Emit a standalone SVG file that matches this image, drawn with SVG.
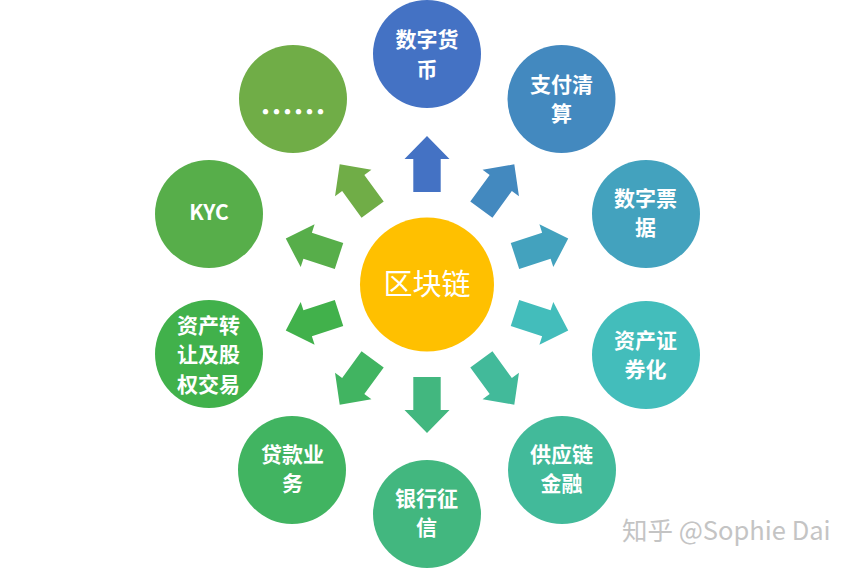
<svg xmlns="http://www.w3.org/2000/svg" width="854" height="569" viewBox="0 0 854 569">
<style>
text{font-family:"Microsoft YaHei","Noto Sans CJK SC","Noto Sans",sans-serif;text-anchor:middle}
.n text{fill:#fff;font-size:21px;font-weight:700}
.wm{fill:#c4c4c4;font-size:25.5px;text-anchor:start}
</style>
<defs><polygon id="a" points="-13.7,-92.5 -13.7,-125.5 -22.5,-125.5 0,-148.5 22.5,-125.5 13.7,-125.5 13.7,-92.5"/></defs>
<rect width="854" height="569" fill="#fff"/>
<g id="connectors">
<use href="#a" transform="translate(427 284.5)" fill="#4472C4"/>
<use href="#a" transform="translate(427 284.5) rotate(36)" fill="#4389BF"/>
<use href="#a" transform="translate(427 284.5) rotate(72)" fill="#43A2BE"/>
<use href="#a" transform="translate(427 284.5) rotate(108)" fill="#43BDBB"/>
<use href="#a" transform="translate(427 284.5) rotate(144)" fill="#42BA9A"/>
<use href="#a" transform="translate(427 284.5) rotate(180)" fill="#42B77F"/>
<use href="#a" transform="translate(427 284.5) rotate(216)" fill="#41B461"/>
<use href="#a" transform="translate(427 284.5) rotate(252)" fill="#41B14B"/>
<use href="#a" transform="translate(427 284.5) rotate(288)" fill="#57AE4A"/>
<use href="#a" transform="translate(427 284.5) rotate(324)" fill="#70AD47"/>
</g>
<g id="center"><circle cx="427" cy="284.5" r="67" fill="#FFC000"/><text x="427" y="295" font-size="29" fill="#fff">区块链</text></g>
<g id="n0" class="n"><circle cx="427" cy="54" r="54" fill="#4472C4"/><text x="427" y="47">数字货</text><text x="427" y="77">币</text></g>
<g id="n1" class="n"><circle cx="561.5" cy="99" r="54" fill="#4389BF"/><text x="561.5" y="92">支付清</text><text x="561.5" y="121">算</text></g>
<g id="n2" class="n"><circle cx="646" cy="214" r="54" fill="#43A2BE"/><text x="645.5" y="206">数字票</text><text x="645.5" y="235">据</text></g>
<g id="n3" class="n"><circle cx="646" cy="355" r="54" fill="#43BDBB"/><text x="645.5" y="348">资产证</text><text x="645.5" y="377">券化</text></g>
<g id="n4" class="n"><circle cx="562" cy="470" r="54" fill="#42BA9A"/><text x="561.5" y="462">供应链</text><text x="561.5" y="491">金融</text></g>
<g id="n5" class="n"><circle cx="427" cy="514" r="54" fill="#42B77F"/><text x="426.5" y="506">银行征</text><text x="426.5" y="535">信</text></g>
<g id="n6" class="n"><circle cx="292" cy="470" r="54" fill="#41B461"/><text x="292.5" y="462">贷款业</text><text x="292.5" y="491">务</text></g>
<g id="n7" class="n"><circle cx="209" cy="354" r="54" fill="#41B14B"/><text x="208.5" y="333">资产转</text><text x="208.5" y="362">让及股</text><text x="208.5" y="392">权交易</text></g>
<g id="n8" class="n"><circle cx="209" cy="214" r="54" fill="#57AE4A"/><text x="209" y="220">KYC</text></g>
<g id="n9" class="n"><circle cx="293" cy="99" r="54" fill="#70AD47"/><text x="293" y="124" style="font-size:33px">……</text></g>
<text class="wm" x="622" y="540">知乎 @Sophie Dai</text>
</svg>
